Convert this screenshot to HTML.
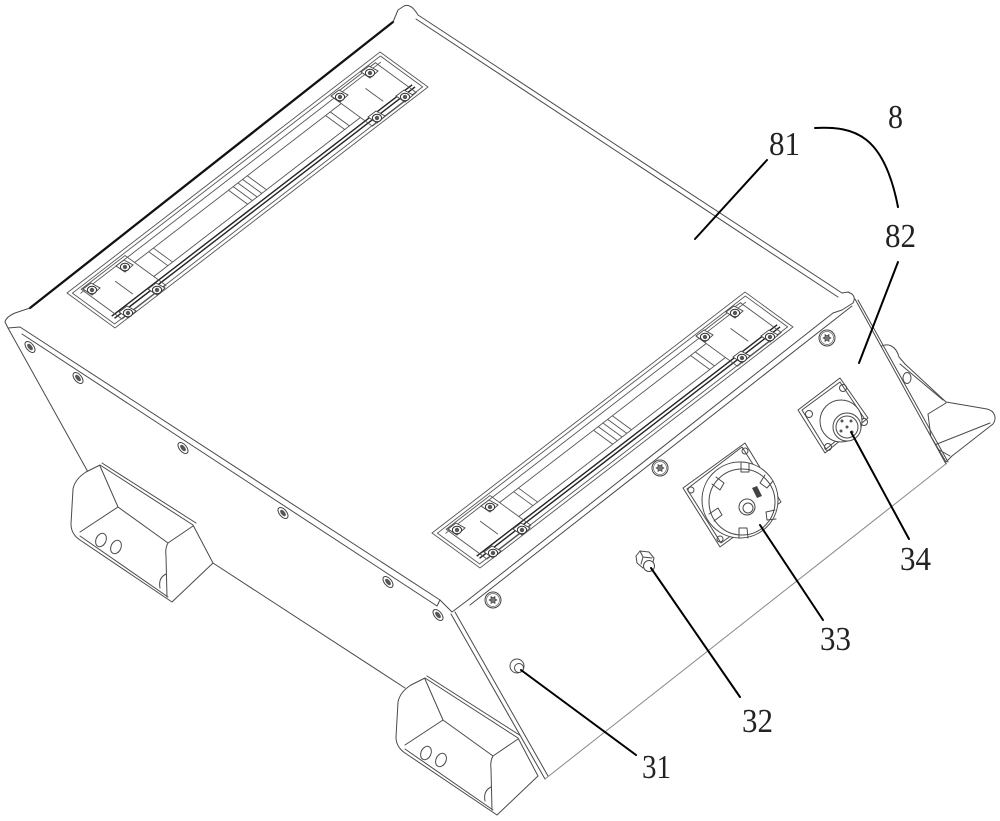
<!DOCTYPE html>
<html><head><meta charset="utf-8">
<style>
html,body{margin:0;padding:0;background:#fff;}
svg{display:block;}
.l{fill:none;stroke:#4a4a4a;stroke-width:1;stroke-linejoin:round;stroke-linecap:round;}
.lt{fill:none;stroke:#888;stroke-width:1;}
.w{fill:#fff;stroke:#4a4a4a;stroke-width:1;stroke-linejoin:round;}
.r *{vector-effect:non-scaling-stroke;fill:none;stroke:#555;stroke-width:0.9;}
.r .rail{stroke:#222;stroke-width:1.4;}
.ld{fill:none;stroke:#000;stroke-width:2;stroke-linecap:round;}
text{font-family:"Liberation Serif",serif;font-size:34px;fill:#222;}
</style></head><body>
<svg width="1000" height="821" viewBox="0 0 1000 821" xmlns="http://www.w3.org/2000/svg">
<defs>
  <g id="torx">
    <circle r="8" fill="#fff" stroke="#444" stroke-width="1"/>
    <circle r="6.5" fill="none" stroke="#666" stroke-width="0.7"/>
    <path d="M4,0 L1.99,1.15 L2,3.46 L0,2.3 L-2,3.46 L-1.99,1.15 L-4,0 L-1.99,-1.15 L-2,-3.46 L0,-2.3 L2,-3.46 L1.99,-1.15 Z" fill="#777" stroke="#333" stroke-width="0.6"/>
  </g>
  <g id="ls">
    <ellipse rx="3.6" ry="6.5" transform="rotate(-40)" fill="#fff" stroke="#444" stroke-width="1"/>
    <ellipse rx="2" ry="3.8" transform="rotate(-40)" fill="#555"/>
  </g>
  <g id="rs">
    <path d="M-9,-1 L-1,-7 L8,-2 L0,5 Z" fill="#fff" stroke="#444" stroke-width="0.9"/>
    <ellipse rx="4.6" ry="3.8" fill="#fff" stroke="#333" stroke-width="1"/>
    <circle r="2.2" fill="#555"/>
  </g>
  <g id="foot">
    <path class="w" d="M100,465 L193,525 L213,563 L172,602 L80,540 Q71,534 71,524 L73,489 Q75,479 86,472 Z"/>
    <path class="l" d="M100,466 L118,507 L80,532 M118,507 L168,543 L193,526 M168,543 Q165,548 166,556 L167,597 M80,536 L168,597 M102,463 L196,523"/>
    <ellipse cx="101" cy="540" rx="5" ry="7" transform="rotate(25 101 540)" class="l"/>
    <ellipse cx="116" cy="547" rx="5" ry="7" transform="rotate(25 116 547)" class="l"/>
    <path class="l" d="M160,588 Q158,578 166,574"/>
  </g>
</defs>

<!-- left panel edges -->
<path class="l" d="M8,328 L88,472"/>
<path class="l" d="M213,563 L405,688"/>

<!-- feet -->
<use href="#foot"/>
<use href="#foot" x="325" y="213"/>

<!-- right foot -->
<path class="w" d="M880,347 C888,342 896,346 899,357 L905,364 L946,402 L987,409 C995,411 997,418 993,424 L952,456 L946,462 L880,350 Z"/>
<path class="l" d="M900,364 L943,400 M928,414 L946,403 M928,414 L932,446 L990,423 M932,446 L950,456"/>
<ellipse cx="907" cy="378" rx="4" ry="5.5" class="l"/>

<!-- front panel -->
<path fill="#fff" stroke="none" d="M450,614 L468,600 L833,313 L855,299 L946,464 L545,779 Z"/>
<path class="l" d="M451,614 L545,779 M455,612 L548,776"/>
<path class="l" d="M855,299 L946,464 M858,300 L948,462"/>
<path class="lt" d="M545,779 L947,463"/>
<path class="l" d="M470,605 L852,306"/>

<!-- lid -->
<path fill="#fff" stroke="none" d="M393,22 L33,307 L15,313 L5,322 L8,328 L20,327 L440,601 L452,612 L468,600 L833,313 L842,310 L853,303 L855,298 L848,292 L842,293 L418,15 L407,5 L398,10 Z"/>
<path fill="none" stroke="#111" stroke-width="2.3" stroke-linecap="round" d="M393,22 L30,308"/>
<path class="l" d="M30,308 L15,313 Q6,317 5,322 L8,328 L20,327 L440,600 L452,612 L468,600 L833,313 L842,310 L853,303 Q856,298 852,294 L848,292 L842,293"/>
<path class="l" d="M22,334 L437,606 M440,600 L437,606"/>
<path class="l" d="M842,293 L418,15 M838,297 L416,19 M418,15 Q411,3 404,6 L398,10 L393,22"/>

<!-- recess 1 -->
<g class="r" transform="matrix(313 -241 48 35 67 293)">
  <polygon points="0,0 1,0 1,1 0,1"/>
  <polygon points="0.008,0.06 0.992,0.06 0.992,0.94 0.008,0.94"/>
  <line x1="0.02" y1="0.15" x2="0.98" y2="0.15"/>
  <line x1="0.17" y1="0.3" x2="0.83" y2="0.3"/>
  <line x1="0.17" y1="0.7" x2="0.83" y2="0.7"/>
  <line class="rail" x1="0.02" y1="0.8" x2="0.98" y2="0.8"/>
  <line class="rail" x1="0.02" y1="0.86" x2="0.98" y2="0.86"/>
  <polygon points="0.03,0.1 0.17,0.1 0.17,0.95 0.03,0.95"/>
  <polygon points="0.83,0.1 0.97,0.1 0.97,0.95 0.83,0.95"/>
  <line x1="0.1" y1="0.35" x2="0.1" y2="0.72"/>
  <line x1="0.9" y1="0.35" x2="0.9" y2="0.72"/>
  <line x1="0.47" y1="0.3" x2="0.47" y2="0.7"/>
  <line x1="0.485" y1="0.3" x2="0.485" y2="0.7"/>
  <line x1="0.5" y1="0.3" x2="0.5" y2="0.7"/>
  <line x1="0.515" y1="0.3" x2="0.515" y2="0.7"/>
  <line x1="0.53" y1="0.3" x2="0.53" y2="0.7"/>
  <line x1="0.215" y1="0.3" x2="0.215" y2="0.7"/>
  <line x1="0.23" y1="0.3" x2="0.23" y2="0.7"/>
  <line x1="0.78" y1="0.3" x2="0.78" y2="0.7"/>
  <line x1="0.795" y1="0.3" x2="0.795" y2="0.7"/>
</g>
<!-- recess 2 -->
<g class="r" transform="matrix(313 -241 48 35 432 533)">
  <polygon points="0,0 1,0 1,1 0,1"/>
  <polygon points="0.008,0.06 0.992,0.06 0.992,0.94 0.008,0.94"/>
  <line x1="0.02" y1="0.15" x2="0.98" y2="0.15"/>
  <line x1="0.17" y1="0.3" x2="0.83" y2="0.3"/>
  <line x1="0.17" y1="0.7" x2="0.83" y2="0.7"/>
  <line class="rail" x1="0.02" y1="0.8" x2="0.98" y2="0.8"/>
  <line class="rail" x1="0.02" y1="0.86" x2="0.98" y2="0.86"/>
  <polygon points="0.03,0.1 0.17,0.1 0.17,0.95 0.03,0.95"/>
  <polygon points="0.83,0.1 0.97,0.1 0.97,0.95 0.83,0.95"/>
  <line x1="0.1" y1="0.35" x2="0.1" y2="0.72"/>
  <line x1="0.9" y1="0.35" x2="0.9" y2="0.72"/>
  <line x1="0.47" y1="0.3" x2="0.47" y2="0.7"/>
  <line x1="0.485" y1="0.3" x2="0.485" y2="0.7"/>
  <line x1="0.5" y1="0.3" x2="0.5" y2="0.7"/>
  <line x1="0.515" y1="0.3" x2="0.515" y2="0.7"/>
  <line x1="0.53" y1="0.3" x2="0.53" y2="0.7"/>
  <line x1="0.215" y1="0.3" x2="0.215" y2="0.7"/>
  <line x1="0.23" y1="0.3" x2="0.23" y2="0.7"/>
  <line x1="0.78" y1="0.3" x2="0.78" y2="0.7"/>
  <line x1="0.795" y1="0.3" x2="0.795" y2="0.7"/>
</g>

<!-- recess screws -->
<use href="#rs" x="92" y="290"/><use href="#rs" x="125" y="267"/><use href="#rs" x="157" y="290"/><use href="#rs" x="128" y="313"/>
<use href="#rs" x="340" y="97"/><use href="#rs" x="370" y="73"/><use href="#rs" x="405" y="97"/><use href="#rs" x="377" y="118"/>
<use href="#rs" x="457" y="530"/><use href="#rs" x="490" y="507"/><use href="#rs" x="522" y="530"/><use href="#rs" x="493" y="553"/>
<use href="#rs" x="705" y="337"/><use href="#rs" x="735" y="313"/><use href="#rs" x="770" y="337"/><use href="#rs" x="742" y="358"/>

<!-- left lip screws -->
<use href="#ls" x="30" y="347"/><use href="#ls" x="78" y="378"/><use href="#ls" x="183" y="448"/>
<use href="#ls" x="283" y="513"/><use href="#ls" x="388" y="582"/><use href="#ls" x="438" y="615"/>

<!-- torx screws on front panel -->
<use href="#torx" x="493" y="600"/><use href="#torx" x="660" y="468"/><use href="#torx" x="827" y="338"/>

<!-- 31 -->
<circle cx="517" cy="666" r="7" class="w"/>
<circle cx="519" cy="668" r="4.5" class="l"/>

<!-- 32 hex nut -->
<path class="w" d="M636,556 L640,551 L649,552 L654,558 L652,566 L643,568 L637,563 Z"/>
<path class="l" d="M640,551 L643,557 L652,558 M643,557 L641,564"/>
<circle cx="649" cy="566" r="5.5" class="w"/>

<!-- 33 -->
<path class="w" d="M745,443 L781,502 L720,547 L683,488 Z"/>
<path class="l" d="M742,447 L777,502 L721,543 L687,489 Z"/>
<circle cx="745" cy="451" r="3" class="l"/>
<circle cx="691" cy="490" r="3" class="l"/>
<circle cx="720" cy="539" r="3" class="l"/>
<circle cx="740" cy="500" r="38" class="w"/>
<circle cx="742" cy="502" r="33" class="l"/>
<path class="l" d="M741,462 L741,472 L749,472 L749,463 M765,475 L760,483 L767,488 L773,481 M775,510 L766,512 L767,520 L776,519 M748,538 L747,528 L739,528 L739,538 M714,521 L722,515 L718,508 L709,514 M712,484 L720,490 L724,483 L716,477"/>
<circle cx="747" cy="507" r="8" class="w"/>
<circle cx="748" cy="508" r="5" class="l"/>
<path d="M752,488 L757,486 L762,496 L757,498 Z" fill="#444"/>

<!-- 34 -->
<path class="w" d="M840,378 L868,418 L825,453 L798,410 Z"/>
<path class="l" d="M840,382 L864,418 L826,449 L802,410 Z"/>
<circle cx="843" cy="388" r="3.5" class="l"/><circle cx="864" cy="422" r="3.5" class="l"/>
<circle cx="828" cy="447" r="3.5" class="l"/><circle cx="809" cy="414" r="3.5" class="l"/>
<circle cx="841" cy="421" r="21" class="w"/>
<circle cx="847" cy="427" r="14" class="w"/>
<circle cx="847" cy="427" r="11" class="l"/>
<circle cx="842" cy="421" r="1.5" fill="#555"/><circle cx="851" cy="421" r="1.5" fill="#555"/>
<circle cx="841" cy="431" r="1.5" fill="#555"/><circle cx="852" cy="432" r="1.5" fill="#555"/><circle cx="847" cy="427" r="1.5" fill="#555"/>

<!-- leaders -->
<path class="ld" d="M767,160 L695,239"/>
<path class="ld" d="M815,128 C855,126 884,135 898,207"/>
<path class="ld" d="M898,262 L859,363"/>
<path class="ld" d="M851,432 L909,539"/>
<path class="ld" d="M760,525 L823,620"/>
<path class="ld" d="M651,568 L740,697"/>
<path class="ld" d="M521,670 L636,755"/>

<!-- labels -->
<text x="888" y="128" textLength="15" lengthAdjust="spacingAndGlyphs">8</text>
<text x="769" y="155" textLength="31" lengthAdjust="spacingAndGlyphs">81</text>
<text x="885" y="247" textLength="31" lengthAdjust="spacingAndGlyphs">82</text>
<text x="900" y="570" textLength="31" lengthAdjust="spacingAndGlyphs">34</text>
<text x="820" y="650" textLength="31" lengthAdjust="spacingAndGlyphs">33</text>
<text x="742" y="732" textLength="31" lengthAdjust="spacingAndGlyphs">32</text>
<text x="642" y="778" textLength="29" lengthAdjust="spacingAndGlyphs">31</text>
</svg>
</body></html>
